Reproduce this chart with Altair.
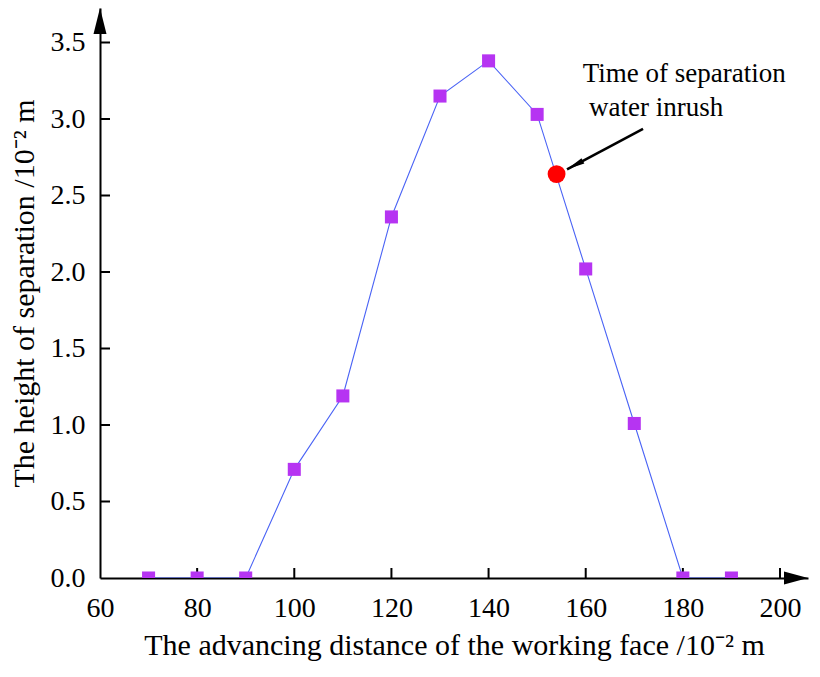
import altair as alt
import pandas as pd

# ---- data ----
distance = [70, 80, 90, 100, 110, 120, 130, 140, 150, 160, 170, 180, 190]
height = [0.0, 0.0, 0.0, 0.71, 1.19, 2.36, 3.15, 3.38, 3.03, 2.02, 1.01, 0.0, 0.0]
inrush_x = [154.0]
inrush_y = [2.64]
x_ticks = [60, 80, 100, 120, 140, 160, 180, 200]
y_ticks = [0.0, 0.5, 1.0, 1.5, 2.0, 2.5, 3.0, 3.5]
note_lines = ["Time of separation", "water inrush"]
note_x = [159.4, 160.7]
note_y = [3.24, 3.02]
arrow_x = [171.8, 156.15]
arrow_y = [2.935, 2.671]

# ---- layout ----
W, H = 708, 570
PX_X = 680 / 140.0          # pixels per x unit
PX_Y = 153.0                # pixels per y unit
X_MIN, X_MAX = 60, 60 + W / PX_X
Y_MIN, Y_MAX = 0, H / PX_Y
FONT = "Liberation Serif"

xs = alt.Scale(domain=[X_MIN, X_MAX], nice=False, zero=False)
ys = alt.Scale(domain=[Y_MIN, Y_MAX], nice=False, zero=False)

x_axis = alt.Axis(values=x_ticks, labelPadding=16, titlePadding=8,
                  title="The advancing distance of the working face /10⁻² m")
y_axis = alt.Axis(values=y_ticks, format=".1f", labelPadding=15, titlePadding=11,
                  title="The height of separation /10⁻² m")


def X(f):
    return alt.X(f, scale=xs, axis=x_axis)


def Y(f):
    return alt.Y(f, scale=ys, axis=y_axis)


df = pd.DataFrame({"d": distance, "h": height})

line = alt.Chart(df).mark_line(color="#4a63f5", strokeWidth=1.1, clip=True).encode(
    x=X("d:Q"), y=Y("h:Q"))
squares = alt.Chart(df).mark_point(shape="square", filled=True, size=170,
                                   color="#b634f2", opacity=1, clip=True).encode(
    x=X("d:Q"), y=Y("h:Q"))
red = alt.Chart(pd.DataFrame({"d": inrush_x, "h": inrush_y})).mark_point(
    shape="circle", filled=True, size=320, color="#ff0000", opacity=1).encode(
    x=X("d:Q"), y=Y("h:Q"))

# inward ticks
xt = alt.Chart(pd.DataFrame({"d": x_ticks[1:], "h": [0.0] * (len(x_ticks) - 1)})).mark_rule(
    color="black", strokeWidth=2, y2Offset=-10).encode(
    x=X("d:Q"), y=Y("h:Q"), y2="h:Q")
yt = alt.Chart(pd.DataFrame({"h": y_ticks[1:], "d": [60.0] * (len(y_ticks) - 1)})).mark_rule(
    color="black", strokeWidth=2, x2Offset=10).encode(
    y=Y("h:Q"), x=X("d:Q"), x2="d:Q")

# axis arrow heads
y_head = alt.Chart(pd.DataFrame({"d": [X_MIN], "h": [Y_MAX]})).mark_point(
    shape="M0,0 L0.5,2 L-0.5,2 Z", filled=True, size=676, color="black",
    opacity=1, strokeWidth=0).encode(x=X("d:Q"), y=Y("h:Q"))
x_head = alt.Chart(pd.DataFrame({"d": [X_MAX], "h": [0.0]})).mark_point(
    shape="M0,0 L0.55,2 L-0.55,2 Z", filled=True, size=576, angle=90,
    color="black", opacity=1, strokeWidth=0).encode(x=X("d:Q"), y=Y("h:Q"))

# annotation arrow
arrow_df = pd.DataFrame({"d": [arrow_x[0]], "h": [arrow_y[0]],
                         "d2": [arrow_x[1]], "h2": [arrow_y[1]]})
arrow_line = alt.Chart(arrow_df).mark_rule(color="black", strokeWidth=2.6).encode(
    x=X("d:Q"), y=Y("h:Q"), x2="d2:Q", y2="h2:Q")
arrow_head = alt.Chart(pd.DataFrame({"d": [arrow_x[1]], "h": [arrow_y[1]]})).mark_point(
    shape="M0,0 L0.34,2 L-0.34,2 Z", filled=True, size=324, angle=242,
    color="black", opacity=1, strokeWidth=0).encode(x=X("d:Q"), y=Y("h:Q"))

notes = alt.Chart(pd.DataFrame({"d": note_x, "h": note_y, "t": note_lines})).mark_text(
    align="left", baseline="alphabetic", font=FONT, fontSize=27, color="black").encode(
    x=X("d:Q"), y=Y("h:Q"), text="t:N")

chart = alt.layer(
    line, xt, yt, squares, red, y_head, x_head, arrow_line, arrow_head, notes
).properties(
    width=W, height=H,
    autosize=alt.AutoSizeParams(type="none"),
    padding={"left": 92, "top": 0, "right": 2, "bottom": 84},
    background="white",
).configure_view(stroke=None).configure_axis(
    ticks=False, tickSize=0, grid=False,
    labelFont=FONT, labelFontSize=28, labelColor="black",
    labelFlush=False, labelOverlap=False,
    domainColor="black", domainWidth=2,
    titleFont=FONT, titleFontSize=30, titleFontWeight="normal", titleColor="black",
)

chart.save("out.html", embed_options={"renderer": "svg", "actions": False})
